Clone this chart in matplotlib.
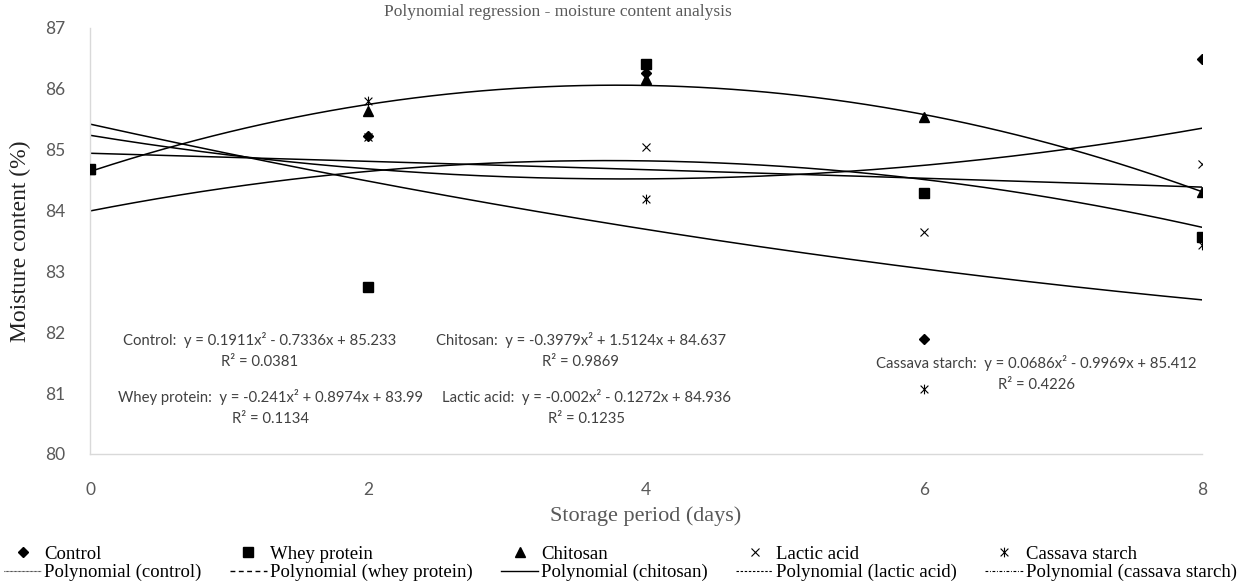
import numpy as np
import matplotlib
matplotlib.use("Agg")
import matplotlib.pyplot as plt
from matplotlib.lines import Line2D
from matplotlib.path import Path

# ---------------- data ----------------
days = [0, 2, 4, 6, 8]
control = [84.68, 85.22, 86.26, 81.89, 86.49]
whey_protein = [84.68, 82.74, 86.41, 84.29, 83.57]
chitosan = [84.68, 85.63, 86.17, 85.54, 84.31]
lactic_acid = [84.68, 85.21, 85.04, 83.64, 84.77]
cassava_starch = [84.68, 85.80, 84.19, 81.06, 83.44]

series_names = ["Control", "Whey protein", "Chitosan", "Lactic acid", "Cassava starch"]
trend_names = ["Polynomial (control)", "Polynomial (whey protein)", "Polynomial (chitosan)",
               "Polynomial (lactic acid)", "Polynomial (cassava starch)"]
equations = [
    "Control:  y = 0.1911x² - 0.7336x + 85.233\nR² = 0.0381",
    "Whey protein:  y = -0.241x² + 0.8974x + 83.99\nR² = 0.1134",
    "Chitosan:  y = -0.3979x² + 1.5124x + 84.637\nR² = 0.9869",
    "Lactic acid:  y = -0.002x² - 0.1272x + 84.936\nR² = 0.1235",
    "Cassava starch:  y = 0.0686x² - 0.9969x + 85.412\nR² = 0.4226",
]
eq_pos = [(1.22, 81.70), (1.30, 80.77), (3.53, 81.70), (3.57, 80.77), (6.81, 81.32)]
y_ticks = [80, 81, 82, 83, 84, 85, 86, 87]
x_ticks = [0, 2, 4, 6, 8]

# ---------------- style ----------------
star = Path([(-1, -1), (1, 1), (-1, 1), (1, -1), (0, -1.25), (0, 1.25)],
            [Path.MOVETO, Path.LINETO, Path.MOVETO, Path.LINETO, Path.MOVETO, Path.LINETO])
markers = [dict(marker="D", ms=5, mfc="black", mec="black"),
           dict(marker="s", ms=6.5, mfc="black", mec="black"),
           dict(marker="^", ms=7, mfc="black", mec="black"),
           dict(marker="x", ms=6, mec="black", mew=0.8),
           dict(marker=star, ms=7, mfc="none", mec="black", mew=0.8)]
legend_ls = [dict(ls=(0, (0.6, 0.6)), lw=0.8),
             dict(ls=(0, (3.5, 2.5)), lw=1.0),
             dict(ls="-", lw=1.0),
             dict(ls=(0, (2.2, 1.5)), lw=0.8),
             dict(ls=(0, (2.5, 1.5, 0.8, 1.5)), lw=0.8)]

serif = "Liberation Serif"
sans = "Lato"
grey = "#595959"

fig = plt.figure(figsize=(12.41, 5.85), dpi=100)
ax = fig.add_axes([90 / 1241, 1 - 454 / 585, 1112 / 1241, 426 / 585])

all_series = [control, whey_protein, chitosan, lactic_acid, cassava_starch]
xs = np.linspace(0, 8, 200)
handles = []
for vals, mk, lsd, name, tname in zip(all_series, markers, legend_ls, series_names, trend_names):
    coef = np.polyfit(days, vals, 2)
    ax.plot(xs, np.polyval(coef, xs), color="black", lw=1.1, zorder=2)
    ax.plot(days, vals, ls="none", zorder=3, **mk)
    handles.append(Line2D([], [], ls="none", **mk))
    handles.append(Line2D([], [], color="black", **lsd))

for txt, (x, y) in zip(equations, eq_pos):
    ax.text(x, y, txt, ha="center", va="center", multialignment="center",
            fontsize=10.7, family=[sans, "DejaVu Sans"], color="#404040", linespacing=1.65)

ax.set_xlim(0, 8)
ax.set_ylim(80, 87)
ax.set_xticks(x_ticks)
ax.set_yticks(y_ticks)
ax.tick_params(length=0, labelsize=12.5, labelcolor=grey, pad=18)
ax.tick_params(axis="x", pad=20)
for lab in ax.get_xticklabels() + ax.get_yticklabels():
    lab.set_family(sans)
for s in ["top", "right"]:
    ax.spines[s].set_visible(False)
for s in ["left", "bottom"]:
    ax.spines[s].set_color("#d9d9d9")
    ax.spines[s].set_linewidth(1.0)

ax.set_xlabel("Storage period (days)", family=serif, fontsize=16, color=grey, labelpad=6)
ax.set_ylabel("Moisture content (%)", family=serif, fontsize=17, color="#222222", labelpad=10)
fig.text(558 / 1241, 1 - 12 / 585, "Polynomial regression - moisture content analysis",
         ha="center", va="center", family=serif, fontsize=12.5, color=grey)

labels = []
for n, t in zip(series_names, trend_names):
    labels += [n, t]
fig.legend(handles, labels, loc="lower left", bbox_to_anchor=(0.0, 0.0), ncol=5,
           frameon=False, prop=dict(family=serif, size=13.5), handlelength=2.0,
           handletextpad=0.15, columnspacing=1.5, labelspacing=0.05, borderpad=0.2,
           borderaxespad=0.0)

fig.savefig("out.png", dpi=100, facecolor="white")
